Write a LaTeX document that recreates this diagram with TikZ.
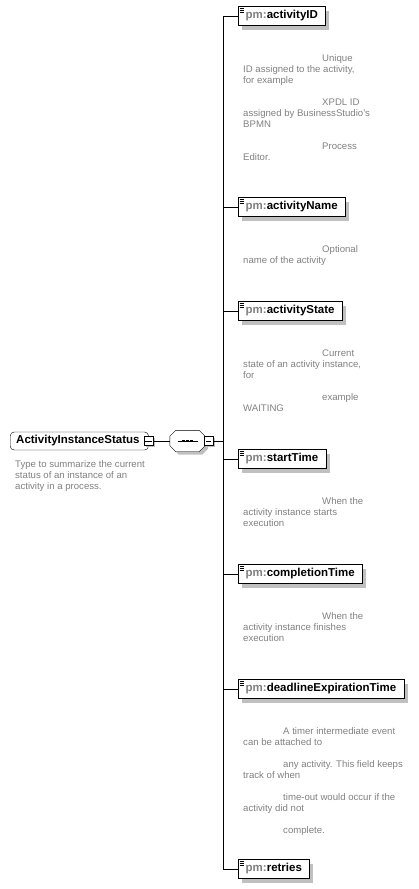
\documentclass[tikz,border=0pt]{standalone}
\usepackage{fontspec}
\setmainfont{Liberation Sans}
\usepackage{xcolor}
\usetikzlibrary{positioning, shadows}
\definecolor{descgray}{RGB}{128,128,128}
\definecolor{shadegray}{RGB}{192,192,192}
\newcommand{\pmname}[1]{{\color{descgray}pm:}#1}
\newcommand{\tabin}{\hspace*{79pt}}

\begin{document}
\begin{tikzpicture}[
    x=1pt, y=-1pt,
    elem/.style={rectangle, draw, fill=white, anchor=west, font=\fontsize{11.5}{13}\selectfont\bfseries, minimum height=19pt, inner xsep=7.5pt, inner ysep=0pt, drop shadow={shadow xshift=4pt, shadow yshift=-4pt, fill=shadegray, opacity=1}},
    desc/.style={align=left, inner sep=0pt, text=descgray, font=\fontsize{9.6}{11}\selectfont},
    rootbox/.style={rectangle, draw, fill=white, rounded corners=4pt, anchor=west, font=\fontsize{11.5}{13}\selectfont\bfseries, minimum height=18pt, inner xsep=6pt, inner ysep=0pt},
    minusbox/.style={rectangle, draw, fill=white, minimum size=9pt, inner sep=0pt, drop shadow={shadow xshift=1.5pt, shadow yshift=-1.5pt, fill=shadegray, opacity=1},
        path picture={\draw ([xshift=2pt]path picture bounding box.west) -- ([xshift=-2pt]path picture bounding box.east);}},
    seqbox/.style={rectangle, minimum width=35pt, minimum height=21pt, inner sep=0pt}
]
\useasboundingbox (0,0) rectangle (418,889);

% root type and its sequence
\node[rootbox] (root) at (10,441) {ActivityInstanceStatus\hspace*{3pt}};
\node[desc, below right=10pt and 5pt of root.south west] (rootdesc) {Type to summarize the current\\ status of an instance of an\\ activity in a process.};
\node[seqbox] (seq) at (187.5,441) {};
\fill[shadegray] ([shift={(9pt,-3pt)}]seq.north west) -- ([shift={(-3pt,-3pt)}]seq.north east) -- ([shift={(3pt,-9pt)}]seq.north east)
    -- ([shift={(3pt,3pt)}]seq.south east) -- ([shift={(-3pt,-3pt)}]seq.south east) -- ([shift={(9pt,-3pt)}]seq.south west)
    -- ([shift={(3pt,3pt)}]seq.south west) -- ([shift={(3pt,-9pt)}]seq.north west) -- cycle;
\draw[fill=white] ([xshift=6pt]seq.north west) -- ([xshift=-6pt]seq.north east) -- ([yshift=-6pt]seq.north east)
    -- ([yshift=6pt]seq.south east) -- ([xshift=-6pt]seq.south east) -- ([xshift=6pt]seq.south west)
    -- ([yshift=6pt]seq.south west) -- ([yshift=-6pt]seq.north west) -- cycle;
\draw[line width=0.8pt] ([xshift=8pt]seq.west) -- ([xshift=-7pt]seq.east);
\foreach \d in {-4,0,4}
    \fill ([xshift=\d pt]seq.center) +(-1.3pt,-1.3pt) rectangle +(1.3pt,1.3pt);
\node[minusbox] (rootm) at (149,441) {};
\node[minusbox] (seqm) at (208.5,441) {};
\coordinate (spine) at (223,441);

% child elements
\node[elem] (id) at (238,16) {\pmname{activityID}};
\node[elem] (name) at (238,207) {\pmname{activityName}};
\node[elem] (state) at (238,311) {\pmname{activityState}};
\node[elem] (start) at (238,459) {\pmname{startTime}};
\node[elem] (completion) at (238,574) {\pmname{completionTime}};
\node[elem] (deadline) at (238,689) {\pmname{deadlineExpirationTime}};
\node[elem] (retries) at (238,869) {\pmname{retries}};

\foreach \n in {id,name,state,start,completion,deadline,retries}
    \foreach \k in {2,3.8,5.6}
        \draw[line width=0.7pt] ([xshift=1.5pt,yshift=-\k pt]\n.north west) -- ++(4.5pt,0);

% annotations
\node[desc, below right=29pt and 5pt of id.south west] (iddesc) {\tabin Unique\\ ID assigned to the activity,\\ for example\\[11pt] \tabin XPDL ID\\ assigned by BusinessStudio's\\ BPMN\\[11pt] \tabin Process\\ Editor.};
\node[desc, below right=29pt and 5pt of name.south west] (namedesc) {\tabin Optional\\ name of the activity};
\node[desc, below right=29pt and 5pt of state.south west] (statedesc) {\tabin Current\\ state of an activity instance,\\ for\\[11pt] \tabin example\\ WAITING};
\node[desc, below right=29pt and 5pt of start.south west] (startdesc) {\tabin When the\\ activity instance starts\\ execution};
\node[desc, below right=29pt and 5pt of completion.south west] (completiondesc) {\tabin When the\\ activity instance finishes\\ execution};
\node[desc, below right=29pt and 5pt of deadline.south west] (deadlinedesc) {\hspace*{40pt}A timer intermediate event\\ can be attached to\\[11pt] \hspace*{40pt}any activity. This field keeps\\ track of when\\[11pt] \hspace*{40pt}time-out would occur if the\\ activity did not\\[11pt] \hspace*{40pt}complete.};

% connectors
\draw (root) -- (rootm);
\draw (rootm) -- (seq);
\draw (seq) -- (seqm);
\draw (seqm) -- (spine);
\foreach \n in {id,name,state,start,completion,deadline,retries}
    \draw (spine) |- (\n.west);
\end{tikzpicture}
\end{document}
